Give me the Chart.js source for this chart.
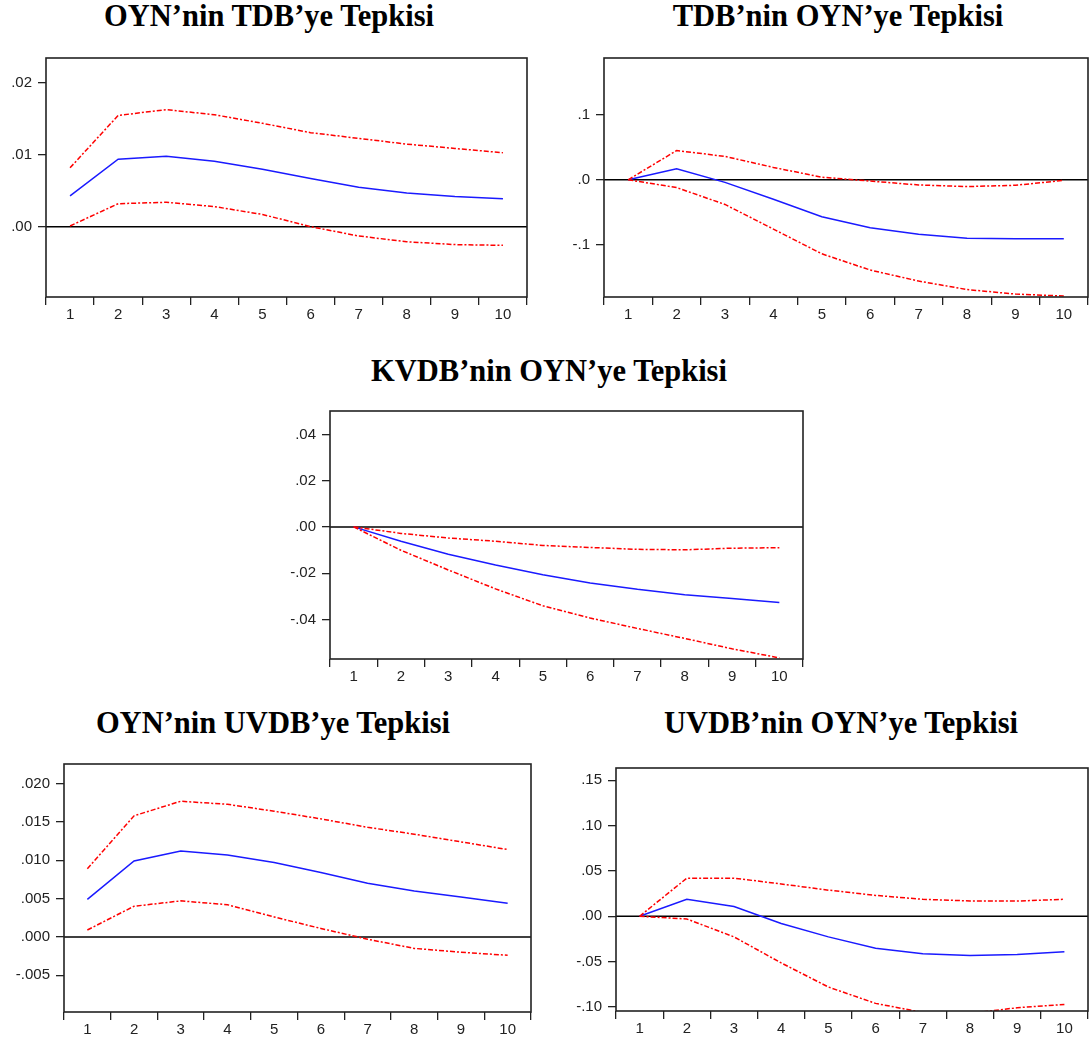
<!DOCTYPE html>
<html>
<head>
<meta charset="utf-8">
<script src="https://cdn.jsdelivr.net/npm/chart.js"></script>
<style>
  html, body { margin: 0; padding: 0; background: #fff; overflow: hidden; }
  body { width: 1090px; height: 1039px; position: relative; }
  .title {
    position: absolute; width: 500px; text-align: center;
    font-family: "Liberation Serif", "Times New Roman", serif;
    font-weight: bold; font-size: 30.5px; line-height: 30.5px; color: #000;
    white-space: nowrap;
  }
  canvas { position: absolute; }
</style>
</head>
<body>
<div class="title" style="left:19px;top:1px">OYN’nin TDB’ye Tepkisi</div>
<div class="title" style="left:588px;top:1px">TDB’nin OYN’ye Tepkisi</div>
<div class="title" style="left:299px;top:356px">KVDB’nin OYN’ye Tepkisi</div>
<div class="title" style="left:23px;top:708px">OYN’nin UVDB’ye Tepkisi</div>
<div class="title" style="left:591px;top:708px">UVDB’nin OYN’ye Tepkisi</div>

<canvas id="c1"></canvas>
<canvas id="c2"></canvas>
<canvas id="c3"></canvas>
<canvas id="c4"></canvas>
<canvas id="c5"></canvas>

<script>
// periods
const periods = ['1', '2', '3', '4', '5', '6', '7', '8', '9', '10'];

// OYN'nin TDB'ye Tepkisi
const oynTdbResp = [0.0043, 0.0094, 0.0098, 0.0091, 0.0080, 0.0067, 0.0055, 0.0047, 0.0042, 0.0039];
const oynTdbUpper = [0.0082, 0.0155, 0.0163, 0.0156, 0.0144, 0.0131, 0.0123, 0.0115, 0.0109, 0.0103];
const oynTdbLower = [0.0001, 0.0032, 0.0034, 0.0028, 0.0017, 0.0000, -0.0013, -0.0021, -0.0025, -0.0026];
const oynTdbTicks = [0, 0.01, 0.02];
const oynTdbTickLabels = ['.00', '.01', '.02'];

// TDB'nin OYN'ye Tepkisi
const tdbOynResp = [0.0, 0.017, -0.004, -0.030, -0.057, -0.074, -0.084, -0.090, -0.091, -0.091];
const tdbOynUpper = [0.0, 0.045, 0.036, 0.019, 0.004, -0.002, -0.008, -0.0105, -0.0085, -0.001];
const tdbOynLower = [0.0, -0.012, -0.038, -0.076, -0.114, -0.139, -0.156, -0.169, -0.176, -0.179];
const tdbOynTicks = [-0.1, 0, 0.1];
const tdbOynTickLabels = ['-.1', '.0', '.1'];

// KVDB'nin OYN'ye Tepkisi
const kvdbOynResp = [0, -0.0062, -0.0118, -0.0165, -0.0207, -0.0242, -0.0270, -0.0293, -0.0310, -0.0327];
const kvdbOynUpper = [0, -0.0028, -0.0048, -0.0062, -0.0080, -0.0089, -0.0097, -0.0099, -0.0092, -0.0090];
const kvdbOynLower = [0, -0.0101, -0.0186, -0.0268, -0.0341, -0.0394, -0.0439, -0.0482, -0.0527, -0.0566];
const kvdbOynTicks = [-0.04, -0.02, 0, 0.02, 0.04];
const kvdbOynTickLabels = ['-.04', '-.02', '.00', '.02', '.04'];

// OYN'nin UVDB'ye Tepkisi
const oynUvdbResp = [0.0049, 0.0099, 0.0112, 0.0107, 0.0097, 0.0084, 0.0070, 0.0060, 0.0052, 0.0044];
const oynUvdbUpper = [0.0089, 0.0158, 0.0177, 0.0173, 0.0164, 0.0154, 0.0143, 0.0134, 0.0124, 0.0114];
const oynUvdbLower = [0.0009, 0.0040, 0.0047, 0.0042, 0.0026, 0.0011, -0.0003, -0.0015, -0.0020, -0.0024];
const oynUvdbTicks = [-0.005, 0, 0.005, 0.010, 0.015, 0.020];
const oynUvdbTickLabels = ['-.005', '.000', '.005', '.010', '.015', '.020'];

// UVDB'nin OYN'ye Tepkisi
const uvdbOynResp = [0.0, 0.0187, 0.0108, -0.0080, -0.0227, -0.0353, -0.0414, -0.0432, -0.0420, -0.0392];
const uvdbOynUpper = [0.0, 0.042, 0.042, 0.0356, 0.0288, 0.023, 0.0187, 0.0169, 0.0168, 0.0187];
const uvdbOynLower = [0.0, -0.003, -0.0227, -0.0514, -0.078, -0.096, -0.106, -0.107, -0.1008, -0.0972];
const uvdbOynTicks = [-0.10, -0.05, 0, 0.05, 0.10, 0.15];
const uvdbOynTickLabels = ['-.10', '-.05', '.00', '.05', '.10', '.15'];

const Y_W = 52, X_H = 30, PAD_T = 10, PAD_R = 6;
const tickFont = { family: '"Liberation Sans", Arial, sans-serif', size: 15 };

// frame + zero line
const framePlugin = {
  id: 'frame',
  beforeDatasetsDraw(chart) {
    const { ctx, chartArea: a, scales } = chart;
    const y0 = scales.y.getPixelForValue(0);
    ctx.save();
    ctx.strokeStyle = '#000';
    ctx.lineWidth = 1.5;
    ctx.beginPath();
    ctx.moveTo(a.left, y0);
    ctx.lineTo(a.right, y0);
    ctx.stroke();
    ctx.restore();
  },
  afterDatasetsDraw(chart) {
    const { ctx, chartArea: a } = chart;
    ctx.save();
    ctx.strokeStyle = '#222';
    ctx.lineWidth = 1.6;
    ctx.strokeRect(a.left, a.top, a.right - a.left, a.bottom - a.top);
    ctx.restore();
  }
};

function makePanel(id, box, yMin, yMax, ticks, tickLabels, resp, upper, lower) {
  const cv = document.getElementById(id);
  const w = (box.r - box.l) + Y_W + PAD_R;
  const h = (box.b - box.t) + X_H + PAD_T;
  cv.width = w; cv.height = h;
  cv.style.left = (box.l - Y_W) + 'px';
  cv.style.top = (box.t - PAD_T) + 'px';
  cv.style.width = w + 'px';
  cv.style.height = h + 'px';

  const line = (data, color, dash) => ({
    data: data,
    borderColor: color,
    borderWidth: 1.5,
    borderDash: dash,
    pointRadius: 0,
    tension: 0,
    fill: false
  });

  new Chart(cv, {
    type: 'line',
    data: {
      labels: periods,
      datasets: [
        line(upper, '#ff0000', [5, 2, 2, 2]),
        line(lower, '#ff0000', [5, 2, 2, 2]),
        line(resp, '#1a1aff', [])
      ]
    },
    options: {
      responsive: false,
      animation: false,
      devicePixelRatio: 1,
      layout: { padding: { top: PAD_T, right: PAD_R, left: 0, bottom: 0 } },
      plugins: { legend: { display: false }, tooltip: { enabled: false } },
      scales: {
        x: {
          type: 'category',
          offset: true,
          afterFit: s => { s.height = X_H; },
          border: { display: false },
          grid: { offset: true, drawOnChartArea: false, drawTicks: true, tickLength: 8, color: '#222', lineWidth: 1.3 },
          ticks: { font: tickFont, color: '#222', padding: 1, maxRotation: 0, autoSkip: false }
        },
        y: {
          type: 'linear',
          min: yMin,
          max: yMax,
          afterFit: s => { s.width = Y_W; },
          afterBuildTicks: s => { s.ticks = ticks.map(v => ({ value: v })); },
          border: { display: false },
          grid: { drawOnChartArea: false, drawTicks: true, tickLength: 8, color: '#222', lineWidth: 1.3 },
          ticks: {
            font: tickFont, color: '#222', padding: 6,
            callback: (v, i) => tickLabels[i]
          }
        }
      }
    },
    plugins: [framePlugin]
  });
}

makePanel('c1', { l: 46, t: 53, r: 527, b: 297 }, -0.0098, 0.0235, oynTdbTicks, oynTdbTickLabels, oynTdbResp, oynTdbUpper, oynTdbLower);
makePanel('c2', { l: 604, t: 53, r: 1088, b: 297 }, -0.1805, 0.1875, tdbOynTicks, tdbOynTickLabels, tdbOynResp, tdbOynUpper, tdbOynLower);
makePanel('c3', { l: 330, t: 406, r: 803, b: 659 }, -0.0571, 0.0501, kvdbOynTicks, kvdbOynTickLabels, kvdbOynResp, kvdbOynUpper, kvdbOynLower);
makePanel('c4', { l: 64, t: 759, r: 531, b: 1012 }, -0.0098, 0.02256, oynUvdbTicks, oynUvdbTickLabels, oynUvdbResp, oynUvdbUpper, oynUvdbLower);
makePanel('c5', { l: 616, t: 763, r: 1088, b: 1011 }, -0.1044, 0.1634, uvdbOynTicks, uvdbOynTickLabels, uvdbOynResp, uvdbOynUpper, uvdbOynLower);
</script>
</body>
</html>
